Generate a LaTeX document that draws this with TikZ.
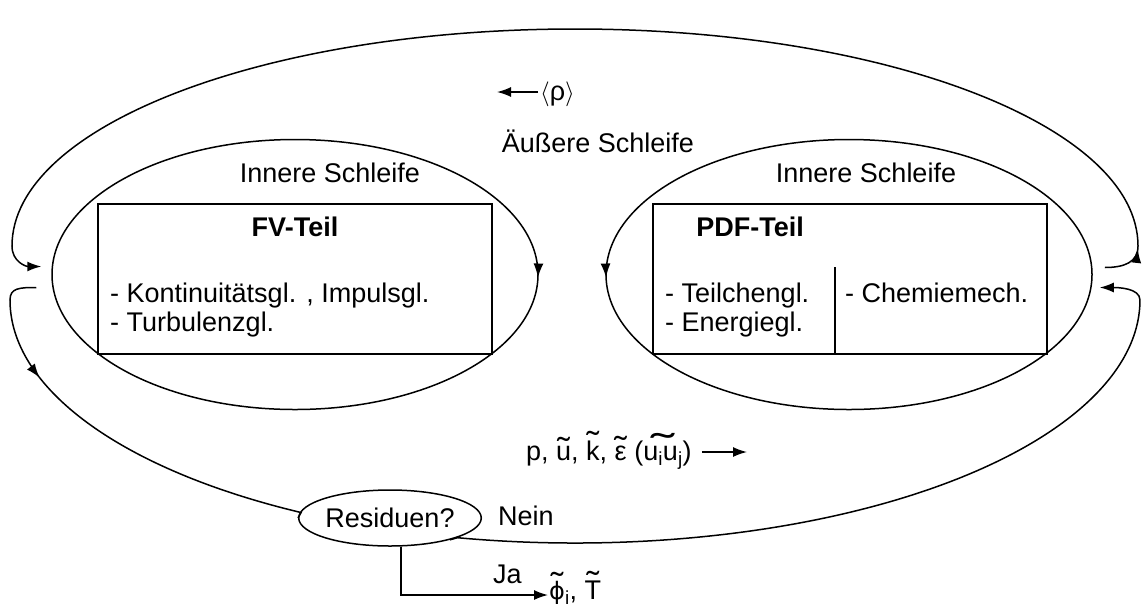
\documentclass[tikz,border=0pt]{standalone}
\usepackage{fontspec}
\setmainfont{Liberation Sans}
\newfontfamily\phifont{DejaVu Sans}
\usetikzlibrary{shapes.geometric,arrows.meta,decorations.markings,calc}
% tilde set over a piece of text: #1 x-scale, #2 y-scale, #3 text
\newsavebox\tlbox
\newcommand\tlx[3]{\sbox\tlbox{#3}\leavevmode
  \rlap{\hbox to\wd\tlbox{\hss\raisebox{\dimexpr\ht\tlbox-1ex\relax}{\scalebox{#1}[#2]{˜}}\hss}}%
  \usebox\tlbox}
\newcommand\tl[1]{\tlx{1.4}{1.2}{#1}}
\begin{document}
\begin{tikzpicture}[x=1pt,y=-1pt,
  line/.style={line width=1.5pt},
  tip/.style={-{Latex[length=14pt,width=10pt]}},
  txt/.style={font=\fontsize{27}{31}\selectfont, inner sep=0pt},
  title/.style={font=\fontsize{27}{31}\selectfont\bfseries, inner sep=0pt},
  loopell/.style={ellipse, draw, line width=1.5pt, inner sep=0pt,
    minimum width=486pt, minimum height=270pt},
  box/.style={draw, line width=1.5pt, inner sep=0pt,
    minimum width=394pt, minimum height=150pt},
  resell/.style={ellipse, draw, line width=1.5pt, inner sep=0pt,
    minimum width=142pt, minimum height=56pt,
    font=\fontsize{27}{31}\selectfont}]
\useasboundingbox (0,0) rectangle (1142,603);

% inner loops
\node[loopell, postaction={decorate}, decoration={markings,
  mark=at position -3pt with {\arrowreversed{Latex[length=14pt,width=10pt]}}}]
  (L) at (295,274.5) {};
\node[loopell, postaction={decorate}, decoration={markings,
  mark=at position 0.5025 with {\arrow{Latex[length=14pt,width=10pt]}}}]
  (R) at (849,274.5) {};

% solver parts
\node[box] (fv) at (295,279) {};
\node[box] (pdf) at (850,279) {};
\coordinate (div) at (835,267);
\draw[line] (div) -- (div |- pdf.south);

\node[title, anchor=base] (fvt) at (295,236) {FV-Teil};
\node[txt, anchor=base west] (fv1) at (110,302) {- Kontinuitätsgl. , Impulsgl.};
\node[txt, anchor=base west] (fv2) at (110,331) {- Turbulenzgl.};
\node[title, anchor=base] (pdft) at (750,236) {PDF-Teil};
\node[txt, anchor=base west] (pdf1) at (665,302) {- Teilchengl.};
\node[txt, anchor=base west] (pdf2) at (665,331) {- Energiegl.};
\node[txt, anchor=base west] (pdf3) at (845,302) {- Chemiemech.};

\node[txt, anchor=base] (inl) at (330,182) {Innere Schleife};
\node[txt, anchor=base] (inr) at (866,182) {Innere Schleife};
\node[txt, anchor=base] (outer) at (598,152) {Äußere Schleife};

% exchanged quantities
\node[txt, anchor=base west] (rho) at (540,100) {$\langle$ρ$\rangle$};
\coordinate (rhoend) at (497,92);
\draw[line, tip] ($(rho.west |- rhoend)+(-2,0)$) -- (rhoend);

\node[txt, anchor=base west] (vars) at (526,460)
  {p, \tl{u}, \tl{k}, \tl{ε} (\tlx{2.6}{1.4}{u\textsubscript{i}u\textsubscript{j}})};
\coordinate (varsend) at (747,452);
\draw[line, tip] ($(vars.east |- varsend)+(10,0)$) -- (varsend);

% convergence check
\node[resell] (res) at (390,518) {Residuen?};
\node[txt, anchor=base west] (nein) at (498,525) {Nein};
\node[txt, anchor=base west] (ja) at (493,583) {Ja};
\node[txt, anchor=base west] (phi) at (549,599)
  {\tl{\phifont\fontsize{24}{28}\selectfont ϕ}\textsubscript{i}, \tl{T}};
\coordinate (jaend) at (548,595);
\draw[line, tip] (res.-69) |- (jaend);

% outer loop, upper branch
\coordinate (os) at ($(R.east)+(12,-7)$);
\coordinate (oe) at ($(L.west)+(-10,-8)$);
\draw[line, tip, postaction={decorate}, decoration={markings,
  mark=at position 42pt with {\arrow{Latex[length=14pt,width=10pt]}}}]
  (os) .. controls +(20,0) and +(0,16) .. (1138,246)
  arc[start angle=0, end angle=180, x radius=563pt, y radius=217pt]
  .. controls +(0,16) and +(-15,0) .. (oe);

% outer loop, lower branch
\coordinate (bs) at ($(L.west)+(-15,13)$);
\coordinate (be) at ($(R.east)+(7,13)$);
\draw[line, postaction={decorate}, decoration={markings,
  mark=at position 118pt with {\arrow{Latex[length=14pt,width=10pt]}}}]
  (bs) .. controls +(-17,0) and +(0,-12) .. (10,300)
  arc[start angle=180, end angle=241, x radius=565pt, y radius=243pt]
  -- (res.west);
\draw[line, tip] (res.-20) -- (457.5,537.7)
  arc[start angle=258, end angle=360, x radius=565pt, y radius=243pt]
  .. controls +(0,-12) and +(18,0) .. (be);
\end{tikzpicture}
\end{document}
